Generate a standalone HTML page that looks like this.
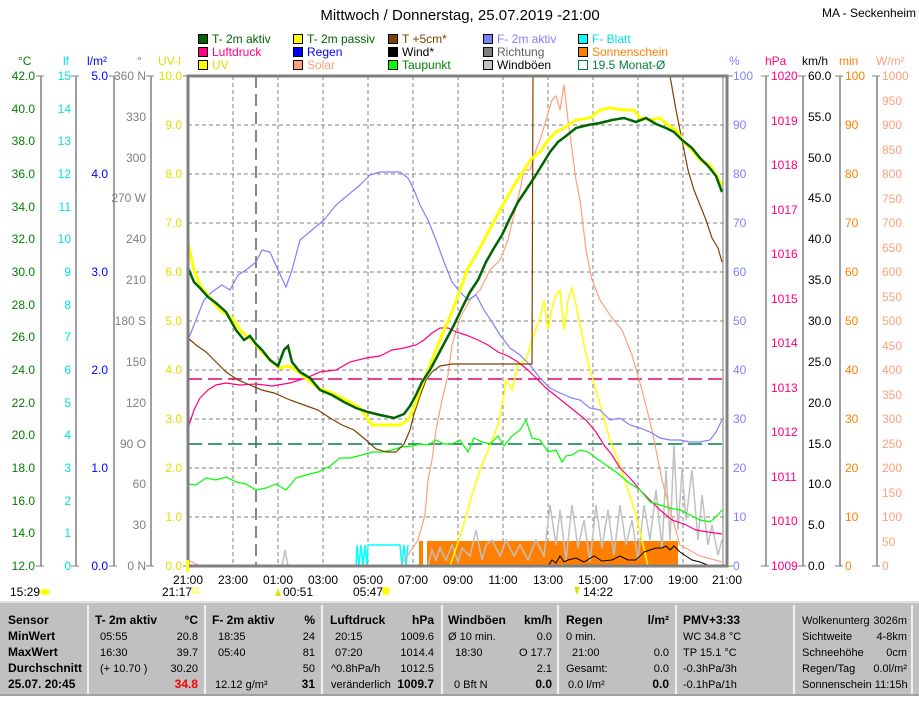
<!DOCTYPE html>
<html><head><meta charset="utf-8"><style>
html,body{margin:0;padding:0;background:#fff;}
body{width:919px;height:696px;overflow:hidden;font-family:"Liberation Sans",sans-serif;}
svg text{font-family:"Liberation Sans",sans-serif;font-size:12px;}
</style></head><body>
<svg width="919" height="696" viewBox="0 0 919 696" xmlns="http://www.w3.org/2000/svg">
<rect width="919" height="696" fill="#fff"/>
<text x="460" y="20" text-anchor="middle" style="font-size:15px">Mittwoch / Donnerstag, 25.07.2019  -21:00</text>
<text x="822" y="17" style="font-size:12px">MA - Seckenheim</text>

<g stroke="#000" stroke-width="1">
<rect x="198.5" y="34.5" width="9" height="9" fill="#006400"/>
<rect x="293.5" y="34.5" width="9" height="9" fill="#ffff00"/>
<rect x="388.5" y="34.5" width="9" height="9" fill="#804000"/>
<rect x="483.5" y="34.5" width="9" height="9" fill="#8080ff"/>
<rect x="578.5" y="34.5" width="9" height="9" fill="#00ffff"/>
<rect x="198.5" y="47.5" width="9" height="9" fill="#ff0080"/>
<rect x="293.5" y="47.5" width="9" height="9" fill="#0000ff"/>
<rect x="388.5" y="47.5" width="9" height="9" fill="#000"/>
<rect x="483.5" y="47.5" width="9" height="9" fill="#808080"/>
<rect x="578.5" y="47.5" width="9" height="9" fill="#ff8000"/>
<rect x="198.5" y="60.5" width="9" height="9" fill="#ffff00"/>
<rect x="293.5" y="60.5" width="9" height="9" fill="#ffa07a"/>
<rect x="388.5" y="60.5" width="9" height="9" fill="#00ff00"/>
<rect x="483.5" y="60.5" width="9" height="9" fill="#c0c0c0"/>
<rect x="578.5" y="60.5" width="9" height="9" fill="#fff" stroke="#008040"/>
</g>
<g>
<text x="212" y="43" fill="#006400">T- 2m aktiv</text>
<text x="307" y="43" fill="#006400">T- 2m passiv</text>
<text x="402" y="43" fill="#804000">T +5cm*</text>
<text x="497" y="43" fill="#8080ff">F- 2m aktiv</text>
<text x="592" y="43" fill="#00e0e0">F- Blatt</text>
<text x="212" y="56" fill="#ff0080">Luftdruck</text>
<text x="307" y="56" fill="#0000ff">Regen</text>
<text x="402" y="56" fill="#000">Wind*</text>
<text x="497" y="56" fill="#606060">Richtung</text>
<text x="592" y="56" fill="#ff8000">Sonnenschein</text>
<text x="212" y="69" fill="#e0e000">UV</text>
<text x="307" y="69" fill="#ffa07a">Solar</text>
<text x="402" y="69" fill="#008000">Taupunkt</text>
<text x="497" y="69" fill="#000">Windböen</text>
<text x="592" y="69" fill="#008040">19.5 Monat-Ø</text>
</g>

<text x="18" y="65" fill="#008000">°C</text>
<text x="63" y="65" fill="#00e0e0">lf</text>
<text x="87" y="65" fill="#0000ff">l/m²</text>
<text x="137" y="65" fill="#808080">°</text>
<text x="158" y="65" fill="#e0e000">UV-I</text>
<text x="729" y="65" fill="#8080ff">%</text>
<text x="765" y="65" fill="#ff0080">hPa</text>
<text x="802" y="65" fill="#000">km/h</text>
<text x="839" y="65" fill="#ff8000">min</text>
<text x="876" y="65" fill="#ffa07a">W/m²</text>

<g stroke="#808080" stroke-width="1.5">
<line x1="41" y1="76" x2="41" y2="566"/><line x1="76" y1="76" x2="76" y2="566"/>
<line x1="114" y1="76" x2="114" y2="566"/><line x1="151" y1="76" x2="151" y2="566"/>
<line x1="766" y1="76" x2="766" y2="566"/><line x1="803" y1="76" x2="803" y2="566"/>
<line x1="840" y1="76" x2="840" y2="566"/><line x1="877" y1="76" x2="877" y2="566"/>
</g>

<g text-anchor="end" fill="#008000">
<text x="35" y="80">42.0</text><text x="35" y="113">40.0</text><text x="35" y="145">38.0</text><text x="35" y="178">36.0</text><text x="35" y="211">34.0</text><text x="35" y="243">32.0</text><text x="35" y="276">30.0</text><text x="35" y="309">28.0</text><text x="35" y="341">26.0</text><text x="35" y="374">24.0</text><text x="35" y="407">22.0</text><text x="35" y="439">20.0</text><text x="35" y="472">18.0</text><text x="35" y="505">16.0</text><text x="35" y="537">14.0</text><text x="35" y="570">12.0</text>
</g>
<g text-anchor="end" fill="#00e0e0">
<text x="71" y="80">15</text><text x="71" y="113">14</text><text x="71" y="145">13</text><text x="71" y="178">12</text><text x="71" y="211">11</text><text x="71" y="243">10</text><text x="71" y="276">9</text><text x="71" y="309">8</text><text x="71" y="341">7</text><text x="71" y="374">6</text><text x="71" y="407">5</text><text x="71" y="439">4</text><text x="71" y="472">3</text><text x="71" y="505">2</text><text x="71" y="537">1</text><text x="71" y="570">0</text>
</g>
<g text-anchor="end" fill="#0000ff">
<text x="108" y="80">5.0</text><text x="108" y="178">4.0</text><text x="108" y="276">3.0</text><text x="108" y="374">2.0</text><text x="108" y="472">1.0</text><text x="108" y="570">0.0</text>
</g>
<g text-anchor="end" fill="#808080">
<text x="146" y="80">360 N</text><text x="146" y="121">330</text><text x="146" y="162">300</text><text x="146" y="202">270 W</text><text x="146" y="243">240</text><text x="146" y="284">210</text><text x="146" y="325">180 S</text><text x="146" y="366">150</text><text x="146" y="407">120</text><text x="146" y="448">90 O</text><text x="146" y="488">60</text><text x="146" y="529">30</text><text x="146" y="570">0 N</text>
</g>
<g text-anchor="end" fill="#e0e000">
<text x="182" y="80">10.0</text><text x="182" y="129">9.0</text><text x="182" y="178">8.0</text><text x="182" y="227">7.0</text><text x="182" y="276">6.0</text><text x="182" y="325">5.0</text><text x="182" y="374">4.0</text><text x="182" y="423">3.0</text><text x="182" y="472">2.0</text><text x="182" y="521">1.0</text><text x="182" y="570">0.0</text>
</g>
<g fill="#8080ff">
<text x="733" y="80">100</text><text x="733" y="129">90</text><text x="733" y="178">80</text><text x="733" y="227">70</text><text x="733" y="276">60</text><text x="733" y="325">50</text><text x="733" y="374">40</text><text x="733" y="423">30</text><text x="733" y="472">20</text><text x="733" y="521">10</text><text x="733" y="570">0</text>
</g>
<g fill="#ff0080">
<text x="771" y="80">1020</text><text x="771" y="125">1019</text><text x="771" y="169">1018</text><text x="771" y="214">1017</text><text x="771" y="258">1016</text><text x="771" y="303">1015</text><text x="771" y="347">1014</text><text x="771" y="392">1013</text><text x="771" y="436">1012</text><text x="771" y="481">1011</text><text x="771" y="525">1010</text><text x="771" y="570">1009</text>
</g>
<g fill="#000">
<text x="808" y="80">60.0</text><text x="808" y="121">55.0</text><text x="808" y="162">50.0</text><text x="808" y="202">45.0</text><text x="808" y="243">40.0</text><text x="808" y="284">35.0</text><text x="808" y="325">30.0</text><text x="808" y="366">25.0</text><text x="808" y="407">20.0</text><text x="808" y="448">15.0</text><text x="808" y="488">10.0</text><text x="808" y="529">5.0</text><text x="808" y="570">0.0</text>
</g>
<g fill="#ff8000">
<text x="845" y="80">100</text><text x="845" y="129">90</text><text x="845" y="178">80</text><text x="845" y="227">70</text><text x="845" y="276">60</text><text x="845" y="325">50</text><text x="845" y="374">40</text><text x="845" y="423">30</text><text x="845" y="472">20</text><text x="845" y="521">10</text><text x="845" y="570">0</text>
</g>
<g fill="#ffa07a">
<text x="882" y="80">1000</text><text x="882" y="105">950</text><text x="882" y="129">900</text><text x="882" y="154">850</text><text x="882" y="178">800</text><text x="882" y="203">750</text><text x="882" y="227">700</text><text x="882" y="252">650</text><text x="882" y="276">600</text><text x="882" y="301">550</text><text x="882" y="325">500</text><text x="882" y="350">450</text><text x="882" y="374">400</text><text x="882" y="399">350</text><text x="882" y="423">300</text><text x="882" y="448">250</text><text x="882" y="472">200</text><text x="882" y="497">150</text><text x="882" y="521">100</text><text x="882" y="546">50</text><text x="882" y="570">0</text>
</g>
<g stroke="#808080" stroke-width="1">
<path d="M36 76H44M36 566H44M71 76H79M71 566H79M109 76H117M109 566H117M146 76H154M146 566H154M183 76H188M183 566H188M727 76H733M727 566H733M761 76H769M761 566H769M798 76H806M798 566H806M835 76H843M835 566H843M872 76H880M872 566H880"/>
</g>

<g stroke="#808080" stroke-width="1" stroke-dasharray="4,3">
<path d="M233 76V566M278 76V566M323 76V566M368 76V566M413 76V566M458 76V566M503 76V566M548 76V566M593 76V566M638 76V566M683 76V566"/>
<path d="M188 125H727M188 174H727M188 223H727M188 272H727M188 321H727M188 370H727M188 419H727M188 468H727M188 517H727"/>
</g>
<path d="M256 76V566" stroke="#606060" stroke-width="1.5" stroke-dasharray="12,6"/>
<path d="M188 379H723" stroke="#e00070" stroke-width="1.5" stroke-dasharray="14,6"/>
<path d="M188 444H723" stroke="#008040" stroke-width="1.5" stroke-dasharray="14,6"/>

<rect x="419" y="541" width="4" height="25" fill="#ff8000"/>
<rect x="427" y="541" width="251" height="25" fill="#ff8000"/>

<polyline fill="none" stroke="#00ffff" stroke-width="1.5" points="356,566 357,545 359,566 361,545 363,566 365,545 367,566 368,545 400,545 402,566 404,545 406,566 408,545"/>

<polyline fill="none" stroke="#c0c0c0" stroke-width="1.5" points="428,566 432,550 436,560 440,548 446,560 452,545 458,562 462,548 470,556 476,530 482,560 486,545 492,540 500,556 506,540 514,556 520,545 528,560 536,540 544,556 550,505 556,545 560,510 566,560 572,505 578,548 584,520 590,562 596,505 602,548 608,510 614,555 620,505 626,545 632,520 638,560 644,505 650,540 656,490 662,548 666,470 670,540 674,445 678,530 682,470 686,520 692,470 698,540 702,495 708,545 712,525 718,555 722,540"/>
<polyline fill="none" stroke="#c0c0c0" stroke-width="1.5" points="282,566 285,550 288,566"/>

<polyline fill="none" stroke="#ffa07a" stroke-width="1.2" points="188,560 200,566 400,566 410,552 418,540 425,515 428,480 432,460 436,430 442,400 448,375 452,345 460,318 470,300 480,290 490,270 500,260 508,240 514,215 520,190 524,170 530,170 536,150 540,140 546,120 552,100 556,96 560,110 564,85 568,120 572,150 576,180 580,200 586,250 592,280 600,300 612,318 622,330 632,355 642,390 652,430 662,480 670,510 680,545 700,556 722,562"/>

<polyline fill="none" stroke="#ffff00" stroke-width="1.5" points="188,566 450,566 462,530 472,495 480,470 490,445 498,425 504,395 506,380 512,390 518,365 526,360 532,340 540,318 544,300 548,330 552,308 556,295 560,290 564,330 568,300 572,288 576,305 580,325 584,345 590,370 596,390 602,412 610,440 618,460 628,490 636,515 642,540 648,566 722,566"/>

<polyline fill="none" stroke="#8080ff" stroke-width="1.2" points="188,340 196,320 204,300 212,292 222,285 230,290 238,275 246,270 256,262 262,250 270,252 278,270 286,287 292,270 300,240 312,230 324,220 336,205 348,195 360,185 370,175 380,172 392,172 400,172 408,178 414,190 420,205 428,220 436,240 444,262 452,282 460,292 468,300 476,295 484,310 492,322 500,335 510,348 520,355 530,365 540,378 550,388 560,393 572,398 580,400 590,408 600,410 610,420 620,418 630,425 640,428 650,432 660,438 670,440 680,440 690,442 700,442 710,440 716,432 722,420"/>

<polyline fill="none" stroke="#ff0080" stroke-width="1.2" points="188,428 194,410 200,398 208,390 216,385 226,383 240,385 256,384 272,386 290,383 306,378 320,372 336,370 350,362 366,358 380,356 392,350 404,348 416,345 424,340 432,333 440,328 448,328 456,332 466,335 478,340 488,345 498,352 508,356 518,362 528,370 536,378 546,388 556,396 566,404 576,412 586,420 596,432 604,445 612,455 620,468 630,478 640,490 650,500 660,510 672,520 684,524 696,530 708,532 722,534"/>

<polyline fill="none" stroke="#00ff00" stroke-width="1.2" points="188,484 196,485 206,478 216,480 226,477 236,482 246,484 256,490 266,488 276,484 286,490 296,478 306,475 318,472 330,466 340,458 350,458 362,455 372,452 382,452 392,450 402,447 412,446 420,444 428,445 436,440 444,444 452,444 460,440 468,452 474,438 482,442 490,444 498,436 504,446 512,436 520,430 526,420 532,438 540,440 548,452 556,450 562,462 566,456 572,455 580,450 588,452 596,458 606,465 616,472 628,482 640,490 650,502 660,505 670,508 680,510 690,515 700,520 710,522 718,515 722,510"/>

<polyline fill="none" stroke="#804000" stroke-width="1.2" points="188,338 196,345 206,352 216,362 226,372 238,380 250,385 262,390 274,393 290,400 304,405 318,410 330,418 342,425 354,430 366,440 376,449 386,452 396,452 404,444 410,430 414,414 420,396 426,380 432,372 440,366 452,364 470,364 490,364 510,364 532,364 533,76"/>
<polyline fill="none" stroke="#804000" stroke-width="1.2" points="670,76 676,110 682,140 688,170 694,190 700,205 706,220 712,238 718,248 722,262"/>

<polyline fill="none" stroke="#ffff00" stroke-width="3" points="188,243 194,270 200,285 210,298 220,310 232,318 242,332 252,340 262,352 272,362 280,368 288,366 296,370 306,378 318,388 330,392 346,400 360,408 372,425 400,425 408,420 414,408 420,390 428,370 436,350 444,330 452,312 460,290 468,268 476,255 484,240 492,225 500,210 508,196 516,182 524,170 532,158 540,152 548,140 556,132 564,128 576,120 590,118 600,110 610,108 624,110 634,110 640,118 650,120 660,118 668,125 676,130 684,142 692,150 700,160 710,165 716,175 722,185"/>
<polyline fill="none" stroke="#006400" stroke-width="2.5" points="188,268 194,282 200,288 208,297 216,303 226,312 236,330 244,340 250,336 256,344 262,350 270,360 278,366 284,350 288,346 292,362 300,372 310,378 320,390 332,395 344,402 356,408 368,412 380,415 394,418 404,414 410,406 416,395 422,382 430,370 438,355 446,340 454,325 462,308 470,292 478,280 486,262 494,248 502,235 510,218 518,202 526,190 534,178 542,165 550,152 558,142 566,136 576,128 588,125 600,123 612,120 624,118 636,122 646,118 656,124 666,128 674,132 682,140 692,148 700,158 708,166 716,176 722,192"/>

<polyline fill="none" stroke="#000" stroke-width="1" points="548,566 552,560 556,563 560,556 564,562 568,560 576,558 584,562 594,556 602,561 612,560 620,556 628,560 636,560 644,552 650,550 656,548 662,548 666,546 670,550 674,546 680,552 686,556 692,560 700,562 710,566 722,566"/>

<path d="M188 76H727V566H188Z" fill="none" stroke="#808080" stroke-width="3"/>
<path d="M723 76V566" stroke="#808080" stroke-width="1"/>
<rect x="186" y="560" width="3" height="12" fill="#ffff00"/>

<g text-anchor="middle" fill="#000">
<text x="188" y="584">21:00</text><text x="233" y="584">23:00</text><text x="278" y="584">01:00</text><text x="323" y="584">03:00</text><text x="368" y="584">05:00</text><text x="413" y="584">07:00</text><text x="458" y="584">09:00</text><text x="503" y="584">11:00</text><text x="548" y="584">13:00</text><text x="593" y="584">15:00</text><text x="638" y="584">17:00</text><text x="683" y="584">19:00</text><text x="727" y="584">21:00</text>
</g>
<text x="10" y="596">15:29</text>
<ellipse cx="45" cy="592" rx="5" ry="3" fill="#ffff00"/>
<text x="162" y="596">21:17</text>
<rect x="193" y="588" width="5" height="5" fill="none" stroke="#ffff00"/>
<text x="283" y="596">00:51</text>
<path d="M275 596L278 588L281 596Z" fill="#e0e000"/>
<text x="353" y="596">05:47</text>
<circle cx="386" cy="591" r="4" fill="#ffff00"/>
<text x="583" y="596">14:22</text>
<path d="M574 587L580 587L577 595Z" fill="#e0e000"/>

<rect x="0" y="601" width="919" height="95" fill="#c0c0c0"/>
<line x1="0" y1="602" x2="919" y2="602" stroke="#fff"/>
<g stroke="#fff" stroke-width="1.5">
<path d="M88 605V694M205 605V694M322 605V694M442 605V694M558 605V694M676 605V694M794 605V694M912 605V694"/>
</g>
<line x1="0" y1="695" x2="919" y2="695" stroke="#808080"/>
<g style="font-size:11px">
<g font-weight="bold">
<text x="8" y="624" style="font-size:12px">Sensor</text><text x="8" y="640" style="font-size:12px">MinWert</text><text x="8" y="656" style="font-size:12px">MaxWert</text><text x="8" y="672" style="font-size:12px">Durchschnitt</text><text x="8" y="688" style="font-size:12px">25.07. 20:45</text>
<text x="95" y="624" style="font-size:12px">T- 2m aktiv</text><text x="198" y="624" text-anchor="end" style="font-size:12px">°C</text>
<text x="212" y="624" style="font-size:12px">F- 2m aktiv</text><text x="315" y="624" text-anchor="end" style="font-size:12px">%</text>
<text x="330" y="624" style="font-size:12px">Luftdruck</text><text x="434" y="624" text-anchor="end" style="font-size:12px">hPa</text>
<text x="448" y="624" style="font-size:12px">Windböen</text><text x="552" y="624" text-anchor="end" style="font-size:12px">km/h</text>
<text x="566" y="624" style="font-size:12px">Regen</text><text x="669" y="624" text-anchor="end" style="font-size:12px">l/m²</text>
<text x="683" y="624" style="font-size:12px">PMV+3:33</text>
<text x="198" y="688" text-anchor="end" fill="#ff0000" style="font-size:12px">34.8</text>
<text x="315" y="688" text-anchor="end" style="font-size:12px">31</text>
<text x="434" y="688" text-anchor="end" style="font-size:12px">1009.7</text>
<text x="552" y="688" text-anchor="end" style="font-size:12px">0.0</text>
<text x="669" y="688" text-anchor="end" style="font-size:12px">0.0</text>
</g>
<text x="100" y="640" style="font-size:11px">05:55</text><text x="198" y="640" text-anchor="end" style="font-size:11px">20.8</text>
<text x="100" y="656" style="font-size:11px">16:30</text><text x="198" y="656" text-anchor="end" style="font-size:11px">39.7</text>
<text x="100" y="672" style="font-size:11px">(+ 10.70 )</text><text x="198" y="672" text-anchor="end" style="font-size:11px">30.20</text>
<text x="218" y="640" style="font-size:11px">18:35</text><text x="315" y="640" text-anchor="end" style="font-size:11px">24</text>
<text x="218" y="656" style="font-size:11px">05:40</text><text x="315" y="656" text-anchor="end" style="font-size:11px">81</text>
<text x="315" y="672" text-anchor="end" style="font-size:11px">50</text>
<text x="215" y="688" style="font-size:11px">12.12 g/m³</text>
<text x="335" y="640" style="font-size:11px">20:15</text><text x="434" y="640" text-anchor="end" style="font-size:11px">1009.6</text>
<text x="335" y="656" style="font-size:11px">07:20</text><text x="434" y="656" text-anchor="end" style="font-size:11px">1014.4</text>
<text x="331" y="672" style="font-size:11px">^0.8hPa/h</text><text x="434" y="672" text-anchor="end" style="font-size:11px">1012.5</text>
<text x="331" y="688" style="font-size:11px">veränderlich</text>
<text x="448" y="640" style="font-size:11px">Ø 10 min.</text><text x="552" y="640" text-anchor="end" style="font-size:11px">0.0</text>
<text x="455" y="656" style="font-size:11px">18:30</text><text x="552" y="656" text-anchor="end" style="font-size:11px">O 17.7</text>
<text x="552" y="672" text-anchor="end" style="font-size:11px">2.1</text>
<text x="454" y="688" style="font-size:11px">0 Bft N</text>
<text x="566" y="640" style="font-size:11px">0 min.</text>
<text x="572" y="656" style="font-size:11px">21:00</text><text x="669" y="656" text-anchor="end" style="font-size:11px">0.0</text>
<text x="566" y="672" style="font-size:11px">Gesamt:</text><text x="669" y="672" text-anchor="end" style="font-size:11px">0.0</text>
<text x="568" y="688" style="font-size:11px">0.0 l/m²</text>
<text x="683" y="640" style="font-size:11px">WC 34.8 °C</text>
<text x="683" y="656" style="font-size:11px">TP 15.1 °C</text>
<text x="683" y="672" style="font-size:11px">-0.3hPa/3h</text>
<text x="683" y="688" style="font-size:11px">-0.1hPa/1h</text>
<text x="802" y="624" style="font-size:11px">Wolkenunterg</text><text x="907" y="624" text-anchor="end" style="font-size:11px">3026m</text>
<text x="802" y="640" style="font-size:11px">Sichtweite</text><text x="907" y="640" text-anchor="end" style="font-size:11px">4-8km</text>
<text x="802" y="656" style="font-size:11px">Schneehöhe</text><text x="907" y="656" text-anchor="end" style="font-size:11px">0cm</text>
<text x="802" y="672" style="font-size:11px">Regen/Tag</text><text x="907" y="672" text-anchor="end" style="font-size:11px">0.0l/m²</text>
<text x="802" y="688" style="font-size:11px">Sonnenschein 11:15h</text>
</g>
</svg>
</body></html>
